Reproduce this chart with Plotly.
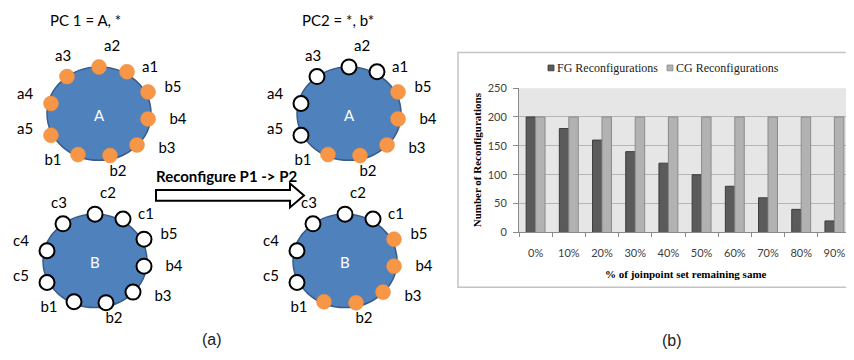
import plotly.graph_objects as go

# ---------------- data: bar chart (b) ----------------
categories = ['0%', '10%', '20%', '30%', '40%', '50%', '60%', '70%', '80%', '90%']
fg_values = [200, 180, 160, 140, 120, 100, 80, 60, 40, 20]
cg_values = [200, 200, 200, 200, 200, 200, 200, 200, 200, 200]
y_ticks = [0, 50, 100, 150, 200, 250]
series_names = ['FG Reconfigurations', 'CG Reconfigurations']

# ---------------- data: diagram (a) ----------------
names_a = ['a2', 'a1', 'b5', 'b4', 'b3', 'b2', 'b1', 'a5', 'a4', 'a3']
names_b = ['c2', 'c1', 'b5', 'b4', 'b3', 'b2', 'b1', 'c5', 'c4', 'c3']
active_pc1_A = [1, 1, 1, 1, 1, 1, 1, 1, 1, 1]
active_pc1_B = [0, 0, 0, 0, 0, 0, 0, 0, 0, 0]
active_pc2_A = [0, 0, 1, 1, 1, 1, 1, 0, 0, 0]
active_pc2_B = [0, 0, 1, 1, 1, 1, 1, 0, 0, 0]
titles = ['PC 1 = A, *', 'PC2 = *, b*']

# ---------------- layout constants (window pixel space) ----------------
OFF = 8                     # page body margin
W, H = 854 - OFF, 360 - 2 * OFF
node_dx = [0, 28, 49, 49, 38, 11, -21, -48, -48, -32]
node_dy = [-49, -44, -23, 5, 32, 43, 42, 22, -11, -39]
lab_dx = [13, 51, 74, 79, 68, 19, -46, -74, -74, -36]
lab_dy = [-70, -48, -27, 6, 37, 60, 49, 17, -20, -59]
clusters = [
    (99, 111, 'A', names_a, active_pc1_A),
    (95, 264, 'B', names_b, active_pc1_B),
    (349, 111, 'A', names_a, active_pc2_A),
    (345, 264, 'B', names_b, active_pc2_B),
]
ORANGE = '#f79646'
BLUE = '#4f81bd'
BLUE_LINE = '#385d8a'
LFONT = 'Lato, Liberation Sans, sans-serif'

fig = go.Figure()

# ---------------- bar chart ----------------
fig.add_trace(go.Bar(x=categories, y=fg_values, name=series_names[0],
                     marker=dict(color='#5b5b5b', line=dict(color='#3c3c3c', width=1)),
                     xaxis='x', yaxis='y', showlegend=False))
fig.add_trace(go.Bar(x=categories, y=cg_values, name=series_names[1],
                     marker=dict(color='#b2b2b2', line=dict(color='#8a8a8a', width=1)),
                     xaxis='x', yaxis='y', showlegend=False))

shapes = []
annotations = []

shapes.append(dict(type='rect', xref='x domain', yref='y domain', x0=0, x1=1, y0=0, y1=1,
                   fillcolor='#e6e6e6', line=dict(width=0), layer='below'))
shapes.append(dict(type='rect', xref='x2', yref='y2', x0=458, x1=870, y0=47, y1=291,
                   fillcolor='rgba(0,0,0,0)', line=dict(color='#c4c4c4', width=1.5), layer='below'))

leg = [(548, series_names[0], '#5b5b5b', '#3c3c3c'), (667, series_names[1], '#b2b2b2', '#8a8a8a')]
for lx, txt, fc, lc in leg:
    shapes.append(dict(type='rect', xref='x2', yref='y2', x0=lx, x1=lx + 6, y0=60, y1=66,
                       fillcolor=fc, line=dict(color=lc, width=0.8)))
    annotations.append(dict(xref='x2', yref='y2', x=lx + 7, y=63.5, text=txt, showarrow=False,
                            xanchor='left', yanchor='middle',
                            font=dict(family='Liberation Serif, serif', size=12, color='#1a1a1a')))

# ---------------- diagram ----------------
for cx, cy, cname, labels, active in clusters:
    shapes.append(dict(type='circle', xref='x2', yref='y2', x0=cx - 52, x1=cx + 52,
                       y0=cy - 49, y1=cy + 48, fillcolor=BLUE,
                       line=dict(color=BLUE_LINE, width=1.5), layer='below'))
    annotations.append(dict(xref='x2', yref='y2', x=cx, y=cy + 1, text=cname, showarrow=False,
                            font=dict(family=LFONT, size=15, color='white')))
    nx = [cx + d for d in node_dx]
    ny = [cy + d for d in node_dy]
    fill = [ORANGE if a else 'white' for a in active]
    lcol = ['#ec8a3a' if a else 'black' for a in active]
    lw = [0.5 if a else 2 for a in active]
    fig.add_trace(go.Scatter(x=nx, y=ny, mode='markers', xaxis='x2', yaxis='y2',
                             marker=dict(size=15, color=fill, line=dict(color=lcol, width=lw)),
                             showlegend=False, hoverinfo='skip'))
    fig.add_trace(go.Scatter(x=[cx + d for d in lab_dx], y=[cy + d for d in lab_dy],
                             mode='text', text=labels, xaxis='x2', yaxis='y2',
                             textfont=dict(family=LFONT, size=15, color='black'),
                             showlegend=False, hoverinfo='skip'))

annotations.append(dict(xref='x2', yref='y2', x=85, y=13, text=titles[0], showarrow=False,
                        font=dict(family=LFONT, size=15, color='black')))
annotations.append(dict(xref='x2', yref='y2', x=338, y=13, text=titles[1], showarrow=False,
                        font=dict(family=LFONT, size=15, color='black')))

shapes.append(dict(type='path', xref='x2', yref='y2',
                   path='M156,190 L290,190 L290,183 L304,195.5 L290,208 L290,201 L156,201 Z',
                   fillcolor='white', line=dict(color='black', width=2)))
annotations.append(dict(xref='x2', yref='y2', x=226, y=175, text='<b>Reconfigure P1 -> P2</b>',
                        showarrow=False, font=dict(family=LFONT, size=15, color='black')))

annotations.append(dict(xref='x2', yref='y2', x=212, y=345, text='(a)', showarrow=False,
                        font=dict(family='Liberation Sans, Arial, sans-serif', size=16, color='#222')))
annotations.append(dict(xref='x2', yref='y2', x=672, y=346, text='(b)', showarrow=False,
                        font=dict(family='Liberation Sans, Arial, sans-serif', size=16, color='#222')))

annotations.append(dict(xref='x2', yref='y2', x=686, y=277, text='<b>% of joinpoint set remaining same</b>',
                        showarrow=False, font=dict(family='Liberation Serif, serif', size=11, color='black')))
annotations.append(dict(xref='x2', yref='y2', x=477, y=159, text='<b>Number of Reconfigurations</b>',
                        textangle=-90, showarrow=False,
                        font=dict(family='Liberation Serif, serif', size=11, color='black')))

fig.update_layout(
    width=W, height=H, margin=dict(l=0, r=0, t=0, b=0),
    paper_bgcolor='white', plot_bgcolor='rgba(0,0,0,0)',
    barmode='group', bargap=0.43, bargroupgap=0,
    xaxis=dict(domain=[(519 - OFF) / W, (851 - OFF) / W], anchor='y', type='category', range=[-0.5, 9.5],
               tickson='boundaries', ticks='outside', ticklen=4, tickcolor='#8a8a8a',
               showline=True, linecolor='#8a8a8a', linewidth=1, showgrid=False,
               tickfont=dict(family=LFONT, size=11, color='#404040'), ticklabelstandoff=10),
    yaxis=dict(domain=[(OFF + H - 234) / H, (OFF + H - 84) / H], anchor='x', range=[0, 250],
               tickvals=y_ticks, ticks='outside', ticklen=5, tickcolor='#8a8a8a',
               showline=True, linecolor='#8a8a8a', linewidth=1,
               showgrid=True, gridcolor='#b5b5b5', gridwidth=1, zeroline=False,
               tickfont=dict(family=LFONT, size=11, color='#404040'), ticklabelstandoff=4),
    xaxis2=dict(domain=[0, 1], anchor='y2', range=[OFF, OFF + W], visible=False),
    yaxis2=dict(domain=[0, 1], anchor='x2', range=[OFF + H, OFF], visible=False),
    shapes=shapes, annotations=annotations,
)

fig.write_html('out.html')
